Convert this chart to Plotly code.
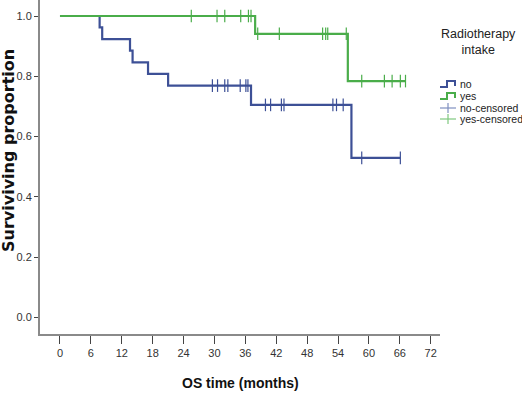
import plotly.graph_objects as go

# ---- data ----
no_times = [0, 7.7, 8.2, 13.6, 14.1, 17.1, 21.0, 37.1, 56.6, 66.1]
no_surv = [1.0, 0.962, 0.923, 0.885, 0.846, 0.808, 0.769, 0.705, 0.529, 0.529]
no_censor_times = [29.6, 30.6, 32.0, 32.6, 35.0, 36.1, 36.5, 39.9, 40.9, 43.0,
                   43.5, 53.0, 53.7, 55.0, 58.6, 66.1]

yes_times = [0, 37.9, 55.9, 67.2]
yes_surv = [1.0, 0.941, 0.784, 0.784]
yes_censor_times = [25.5, 30.5, 32.0, 35.1, 36.6, 37.1, 38.4, 42.6, 51.0, 51.6,
                    52.0, 55.6, 58.6, 63.0, 64.5, 66.1, 67.1]

x_ticks = [0, 6, 12, 18, 24, 30, 36, 42, 48, 54, 60, 66, 72]
y_ticks = [0.0, 0.2, 0.4, 0.6, 0.8, 1.0]
legend_labels = ["no", "yes", "no-censored", "yes-censored"]

BLUE = "#3d5096"
GREEN = "#4aad4a"
BLUE_L = "#7f8fc0"
GREEN_L = "#7fc87f"
FONT = "Liberation Sans Narrow, Liberation Sans, Arial, sans-serif"


def surv_at(t, times, surv):
    s = surv[0]
    for ti, si in zip(times, surv):
        if ti <= t:
            s = si
    return s


fig = go.Figure()
for times, surv, ct, col in [(no_times, no_surv, no_censor_times, BLUE),
                             (yes_times, yes_surv, yes_censor_times, GREEN)]:
    fig.add_trace(go.Scatter(x=times, y=surv, mode="lines", line_shape="hv",
                             line=dict(color=col, width=2.2), showlegend=False,
                             hoverinfo="skip"))
    fig.add_trace(go.Scatter(x=ct, y=[surv_at(t, times, surv) for t in ct],
                             mode="markers",
                             marker=dict(symbol="line-ns-open", size=9, color=col,
                                         line=dict(color=col, width=1.2)),
                             showlegend=False, hoverinfo="skip"))

# plot area geometry in pixels
L, R, T, B = 40, 440, 0, 334


def px(x):
    return (x - L) / (R - L)


def py(y):
    return (B - y) / (B - T)


annotations = [
    dict(text="Radiotherapy<br>intake", x=px(479), y=py(42), xref="paper", yref="paper",
         xanchor="center", yanchor="middle", showarrow=False, align="center",
         font=dict(family=FONT, size=12.5, color="#222")),
]
shapes = []
item_y = [84, 96, 108, 119]
cols = [BLUE, GREEN, BLUE_L, GREEN_L]
for i, (lab, yy, c) in enumerate(zip(legend_labels, item_y, cols)):
    annotations.append(dict(text=lab, x=px(458), y=py(yy), xref="paper", yref="paper",
                            xanchor="left", yanchor="middle", showarrow=False,
                            font=dict(family=FONT, size=10.5, color="#222")))
    if i < 2:
        path = "M {} {} L {} {} L {} {} L {} {} L {} {}".format(
            px(440), py(yy + 3), px(447), py(yy + 3), px(447), py(yy - 3),
            px(455), py(yy - 3), px(455), py(yy + 2))
        shapes.append(dict(type="path", path=path, xref="paper", yref="paper",
                           line=dict(color=c, width=2)))
    else:
        shapes.append(dict(type="line", x0=px(440), x1=px(456), y0=py(yy), y1=py(yy),
                           xref="paper", yref="paper", line=dict(color=c, width=1.2)))
        shapes.append(dict(type="line", x0=px(448), x1=px(448), y0=py(yy - 5), y1=py(yy + 5),
                           xref="paper", yref="paper", line=dict(color=c, width=1.2)))

fig.update_layout(
    width=522, height=395,
    margin=dict(l=L, r=522 - R, t=T, b=395 - B),
    paper_bgcolor="white", plot_bgcolor="white",
    showlegend=False,
    annotations=annotations + [
        dict(text="<b>Surviviving proportion</b>", x=px(9), y=py(151), xref="paper", yref="paper",
             textangle=-90, showarrow=False, xanchor="center", yanchor="middle",
             font=dict(family="DejaVu Sans", size=16, color="#111")),
        dict(text="<b>OS time (months)</b>", x=px(240), y=py(383), xref="paper", yref="paper",
             showarrow=False, xanchor="center", yanchor="middle",
             font=dict(family=FONT, size=14, color="#111")),
    ],
    shapes=shapes,
    xaxis=dict(range=[-3.88, 73.8], tickvals=x_ticks, ticktext=[str(v) for v in x_ticks],
               showgrid=False, zeroline=False, showline=True, linecolor="#8a8a8a",
               linewidth=2, ticks="outside", ticklen=8, tickcolor="#444", tickwidth=1,
               tickfont=dict(family=FONT, size=11, color="#333")),
    yaxis=dict(range=[-0.0554, 1.0531], tickvals=y_ticks, tickformat=".1f",
               showgrid=False, zeroline=False, showline=True, linecolor="#8a8a8a",
               linewidth=2, ticks="outside", ticklen=4, tickcolor="#444", tickwidth=1,
               tickfont=dict(family=FONT, size=11, color="#333")),
)

fig.write_html("out.html", config={"displayModeBar": False},
               post_script="document.body.style.margin='0';document.body.style.overflow='hidden';")
